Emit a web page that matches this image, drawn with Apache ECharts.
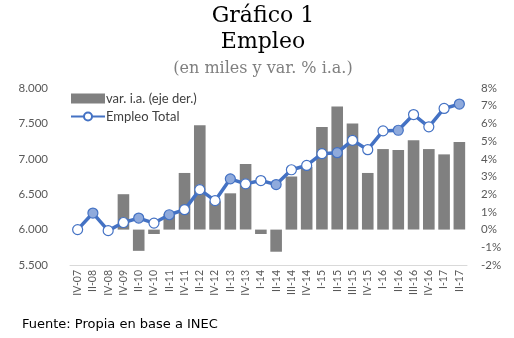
<!DOCTYPE html>
<html>
<head>
<meta charset="utf-8">
<script src="https://cdn.jsdelivr.net/npm/echarts@6/dist/echarts.min.js"></script>
<style>
html,body{margin:0;padding:0;background:#fff;}
#c{width:514px;height:338px;}
</style>
</head>
<body>
<div id="c"></div>
<script>
var categories = ['IV-07','II-08','IV-08','IV-09','II-10','IV-10','II-11','IV-11','II-12','IV-12','II-13','IV-13','I-14','II-14','III-14','IV-14','I-15','II-15','III-15','IV-15','I-16','II-16','III-16','IV-16','I-17','II-17'];
var empleoTotal = [6000,6234,5985,6100,6163,6092,6210,6281,6565,6409,6717,6646,6693,6636,6845,6906,7072,7086,7261,7129,7394,7403,7625,7451,7711,7773];
var varIA = [null,null,null,2.0,-1.2,-0.25,0.9,3.2,5.9,1.6,2.05,3.7,-0.25,-1.25,3.0,3.55,5.8,6.95,6.0,3.2,4.55,4.5,5.05,4.55,4.25,4.95];
var leftTicks = {min:5500, max:8000, interval:500};
var rightTicks = {min:-2, max:8, interval:1};
var titleLines = ['Gráfico 1','Empleo','(en miles y var. % i.a.)'];
var sourceText = 'Fuente: Propia en base a INEC';

var filledIdx = [1,4,6,10,13,17,21,25];

var chart = echarts.init(document.getElementById('c'), null, {renderer:'canvas'});
var lineData = empleoTotal.map(function(v,i){
  if (filledIdx.indexOf(i) >= 0) {
    return {value:v, itemStyle:{color:'#8FAADC', borderColor:'#4472C4', borderWidth:1.2}};
  }
  return v;
});
var axisFont = 'Lato, "Liberation Sans", sans-serif';
chart.setOption({
  animation:false,
  backgroundColor:'#ffffff',
  graphic:[
    {type:'text', x:263, y:16, style:{text:titleLines[0], font:'22px "DejaVu Serif", serif', fill:'#000', align:'center', verticalAlign:'middle'}},
    {type:'text', x:263, y:42, style:{text:titleLines[1], font:'22px "DejaVu Serif", serif', fill:'#000', align:'center', verticalAlign:'middle'}},
    {type:'text', x:263, y:69, style:{text:titleLines[2], font:'16px "DejaVu Serif", serif', fill:'#7f7f7f', align:'center', verticalAlign:'middle'}},
    {type:'text', x:22, y:325, style:{text:sourceText, font:'13px "DejaVu Sans", sans-serif', fill:'#000', align:'left', verticalAlign:'middle'}}
  ],
  legend:{
    orient:'vertical', left:65, top:87, itemWidth:34, itemHeight:10, itemGap:5,
    textStyle:{fontFamily:axisFont, fontSize:13, color:'#404040', padding:[0,0,0,-4]},
    data:[{name:'var. i.a. (eje der.)', icon:'rect'},{name:'Empleo Total'}]
  },
  grid:{left:70, right:47, top:88, bottom:73},
  xAxis:{
    type:'category', data:categories, boundaryGap:true,
    axisLine:{show:true, onZero:false, lineStyle:{color:'#d9d9d9', width:1}},
    axisTick:{show:false},
    axisLabel:{rotate:90, interval:0, margin:5, fontFamily:axisFont, fontSize:10.5, color:'#595959'},
    splitLine:{show:false}
  },
  yAxis:[
    {type:'value', min:leftTicks.min, max:leftTicks.max, interval:leftTicks.interval,
     axisLine:{show:false}, axisTick:{show:false}, splitLine:{show:false},
     axisLabel:{margin:22, fontFamily:axisFont, fontSize:11.5, color:'#595959',
       formatter:function(v){return v.toLocaleString('en-US').replace(/,/g,'.');}}},
    {type:'value', min:rightTicks.min, max:rightTicks.max, interval:rightTicks.interval,
     axisLine:{show:false}, axisTick:{show:false}, splitLine:{show:false},
     axisLabel:{margin:14, fontFamily:axisFont, fontSize:11.5, color:'#595959', align:'left',
       formatter:function(v){return v + '%';}}}
  ],
  series:[
    {name:'var. i.a. (eje der.)', type:'bar', yAxisIndex:1, data:varIA, barCategoryGap:'24%',
     itemStyle:{color:'#808080'}, z:1},
    {name:'Empleo Total', type:'line', yAxisIndex:0, data:lineData, z:3,
     symbol:'circle', symbolSize:10, showAllSymbol:true,
     lineStyle:{color:'#4472C4', width:3.5},
     itemStyle:{color:'#ffffff', borderColor:'#4472C4', borderWidth:1.2}}
  ]
});
</script>
</body>
</html>
